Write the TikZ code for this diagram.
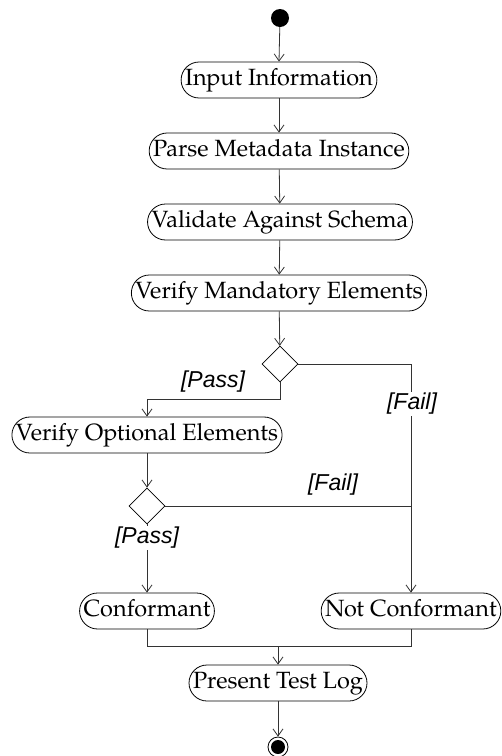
\documentclass[tikz,border=0pt]{standalone}
\usepackage{fontspec}
\newfontfamily\lblfont{Liberation Sans}
\newfontfamily\palfont{texgyrepagella}[Extension=.otf, UprightFont=*-regular]
\usetikzlibrary{shapes.geometric,arrows.meta}
\tikzset{
  act/.style={draw, line width=0.8pt, rounded corners=18pt, minimum height=36pt, inner xsep=4pt, inner ysep=0pt,
    font=\palfont\fontsize{23.5}{28}\selectfont, text height=16.5pt, text depth=5pt},
  dec/.style={draw, line width=0.8pt, diamond, minimum width=36pt, minimum height=36pt, inner sep=0pt},
  flow/.style={line width=0.8pt, draw=black!80},
  arr/.style={flow, -{Straight Barb[length=7pt,width=10pt]}},
  lbl/.style={font=\lblfont\itshape\fontsize{23}{27}\selectfont, inner sep=1pt}
}
\begin{document}
\begin{tikzpicture}[x=1pt,y=-1pt]
\useasboundingbox (0,0) rectangle (502,756);
\node[circle, fill=black, minimum size=18pt, inner sep=0pt] (start) at (280,18) {};
\node[act] (n1) at (279,80) {Input Information};
\node[act] (n2) at (279,151) {Parse Metadata Instance};
\node[act] (n3) at (280,222) {Validate Against Schema};
\node[act] (n4) at (279,293) {Verify Mandatory Elements};
\node[dec] (d1) at (280,364) {};
\node[act] (n5) at (147,435) {Verify Optional Elements};
\node[dec] (d2) at (147,506) {};
\node[act] (n6) at (147,611) {Conformant};
\node[act] (n7) at (411,611) {Not Conformant};
\node[act] (n8) at (278,683) {Present Test Log};
\node[circle, draw, line width=0.8pt, minimum size=20pt, inner sep=0pt] (end) at (278,747) {};
\node[circle, fill=black, minimum size=14pt, inner sep=0pt] at (end.center) {};
\coordinate (m) at (278,647);

\draw[arr] (start) -- (n1.north);
\draw[arr] (n1) -- (n2);
\draw[arr] (n2) -- (n3);
\draw[arr] (n3) -- (n4);
\draw[arr] (n4) -- (d1);
\draw[arr] (d1.south) -- ++(0,17) -| (n5.north);
\draw[arr] (d1.east) -| (n7.north);
\draw[arr] (n5) -- (d2);
\draw[flow] (d2.east) -- (d2.east -| n7.north);
\draw[arr] (d2.south) -- (n6.north);
\draw[flow] (n6.south) -- ++(0,17) -| (n7.south);
\draw[arr] (n8.north |- m) -- (n8.north);
\draw[arr] (n8) -- (end);

\node[lbl] at (213,382) {[Pass]};
\node[lbl, fill=white] at (412,404) {[Fail]};
\node[lbl] at (333,485) {[Fail]};
\node[lbl, fill=white] at (147,538) {[Pass]};
\end{tikzpicture}
\end{document}
